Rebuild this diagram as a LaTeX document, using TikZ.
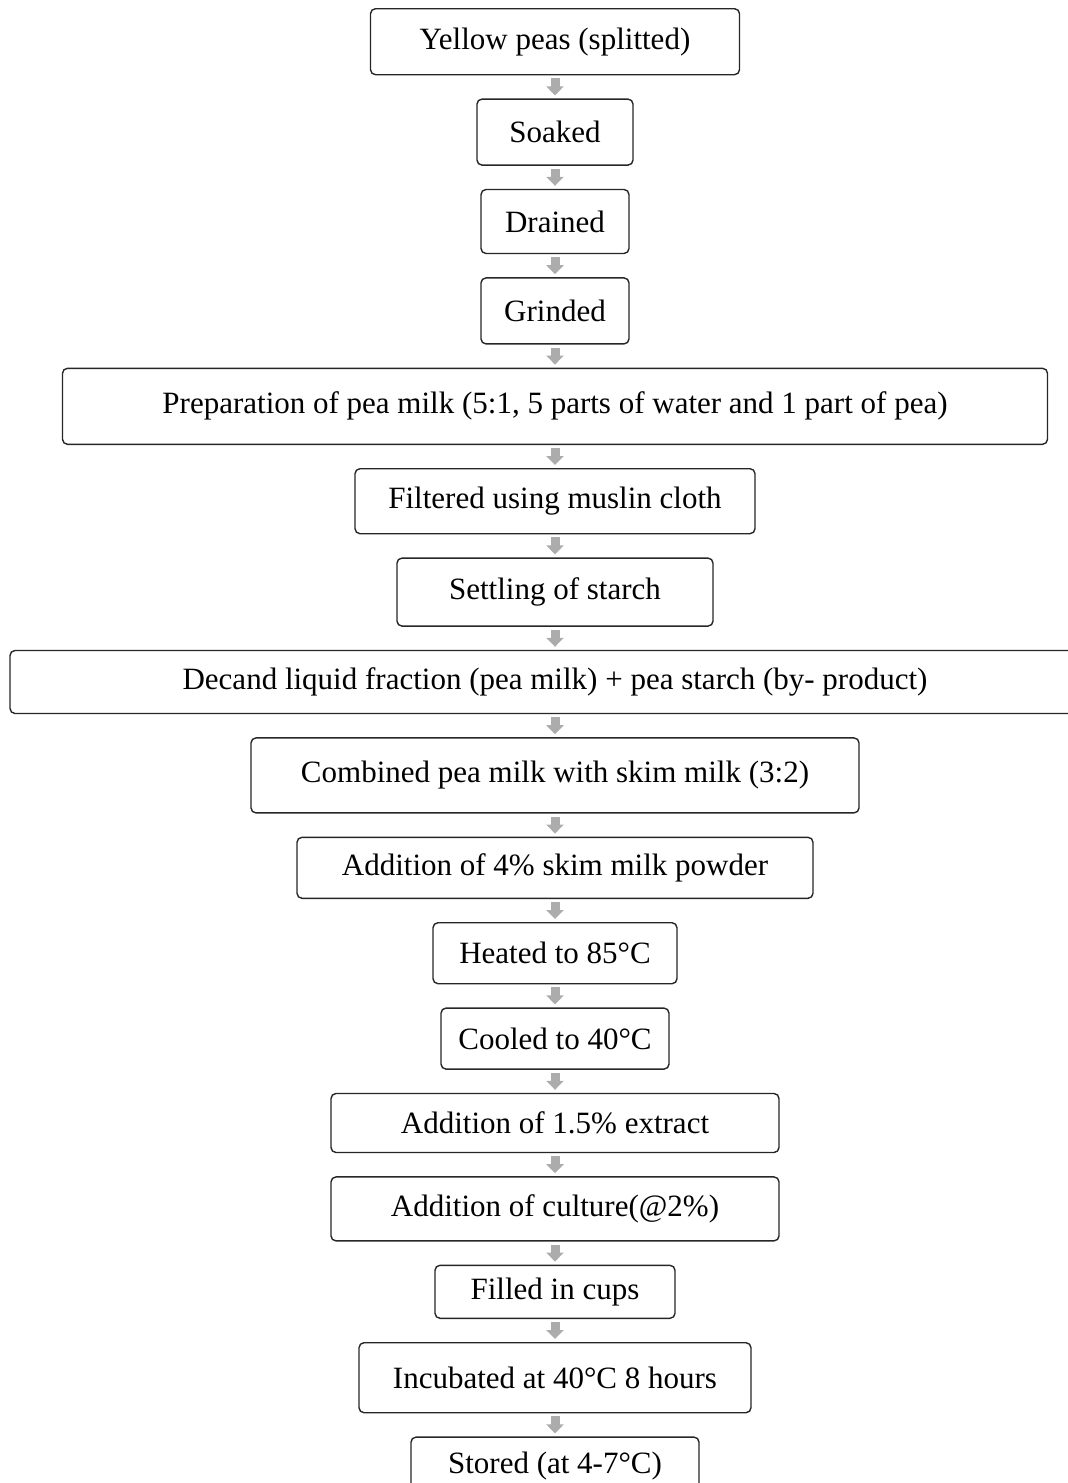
\documentclass[tikz,border=0pt]{standalone}
\usepackage{fontspec}
\setmainfont{Liberation Serif}
\usetikzlibrary{arrows.meta,positioning}

\begin{document}
\begin{tikzpicture}[
  font=\fontsize{15.5}{18}\selectfont,node distance=11.5pt,
  box/.style={rounded corners=2.5pt,draw=black!85,line width=0.7pt,align=center,inner sep=2pt},
  arr/.style={-{Triangle[width=8.5pt,length=4.5pt]},line width=4.5pt,draw=gray!65,shorten <=1.5pt,shorten >=1.5pt}]
\useasboundingbox (0,0) rectangle (534pt,-741.5pt);
\node[box,minimum width=184.5pt,minimum height=33pt,anchor=north] (a) at (277.5pt,-4pt) {Yellow peas (splitted)};
\node[box,minimum width=78pt,minimum height=33pt,below=of a] (b) {Soaked};
\node[box,minimum width=74pt,minimum height=32pt,below=of b] (c) {Drained};
\node[box,minimum width=74pt,minimum height=33pt,below=of c] (d) {Grinded};
\node[box,minimum width=492.5pt,minimum height=38pt,below=of d] (e) {Preparation of pea milk (5:1, 5 parts of water and 1 part of pea)};
\node[box,minimum width=200pt,minimum height=32.5pt,below=of e] (f) {Filtered using muslin cloth};
\node[box,minimum width=158pt,minimum height=34pt,below=of f] (g) {Settling of starch};
\node[box,minimum width=545pt,minimum height=31.5pt,below=of g] (h) {Decand liquid fraction (pea milk) + pea starch (by- product)};
\node[box,minimum width=304pt,minimum height=37.5pt,below=of h] (i) {Combined pea milk with skim milk (3:2)};
\node[box,minimum width=258pt,minimum height=30.5pt,below=of i] (j) {Addition of 4\% skim milk powder};
\node[box,minimum width=122pt,minimum height=30.5pt,below=of j] (k) {Heated to 85°C};
\node[box,minimum width=114pt,minimum height=30.5pt,below=of k] (l) {Cooled to 40°C};
\node[box,minimum width=224pt,minimum height=29.5pt,below=of l] (m) {Addition of 1.5\% extract};
\node[box,minimum width=224pt,minimum height=32pt,below=of m] (n) {Addition of culture(@2\%)};
\node[box,minimum width=120pt,minimum height=26.5pt,below=of n] (o) {Filled in cups};
\node[box,minimum width=196pt,minimum height=35pt,below=of o] (p) {Incubated at 40°C 8 hours};
\node[box,minimum width=144pt,minimum height=29pt,below=of p] (q) {Stored (at 4-7°C)};
\draw[arr](a)--(b); \draw[arr](b)--(c); \draw[arr](c)--(d); \draw[arr](d)--(e);
\draw[arr](e)--(f); \draw[arr](f)--(g); \draw[arr](g)--(h); \draw[arr](h)--(i);
\draw[arr](i)--(j); \draw[arr](j)--(k); \draw[arr](k)--(l); \draw[arr](l)--(m);
\draw[arr](m)--(n); \draw[arr](n)--(o); \draw[arr](o)--(p); \draw[arr](p)--(q);
\end{tikzpicture}
\end{document}
